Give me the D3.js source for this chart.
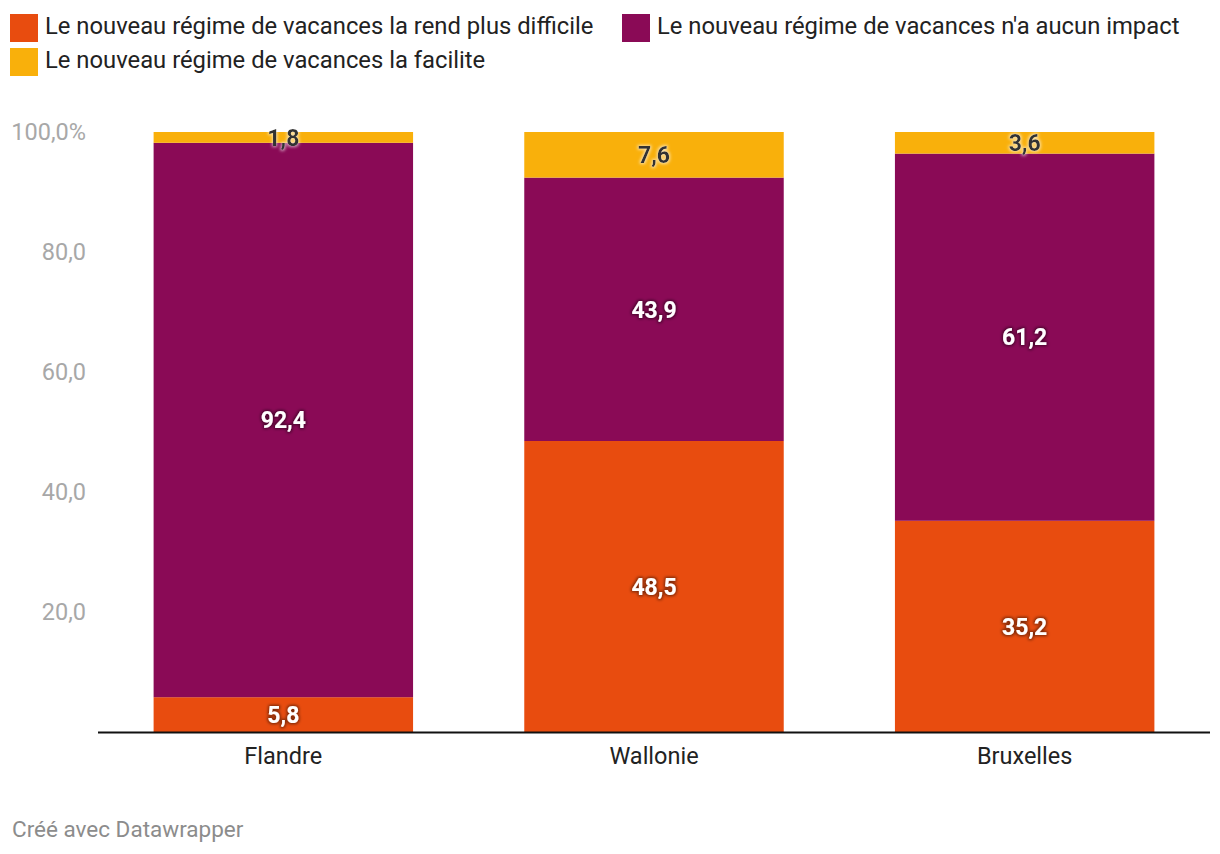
<html>
<head>
<meta charset="utf-8">
<script src="https://d3js.org/d3.v7.min.js"></script>
<style>
  body { margin: 0; background: #fff; font-family: Roboto, "Noto Sans", sans-serif; }
  .val { font-weight: 700; font-size: 23px; }
</style>
</head>
<body>
<svg width="1220" height="854"></svg>
<script>
  var regions = ["Flandre", "Wallonie", "Bruxelles"];
  var seriesNames = [
    "Le nouveau régime de vacances la rend plus difficile",
    "Le nouveau régime de vacances n'a aucun impact",
    "Le nouveau régime de vacances la facilite"
  ];
  var plusDifficile = [5.8, 48.5, 35.2];
  var aucunImpact = [92.4, 43.9, 61.2];
  var facilite = [1.8, 7.6, 3.6];
  var yTicks = [0, 20, 40, 60, 80, 100];
  var colors = ["#e84c0f", "#8a0a56", "#f9b00b"];

  var svg = d3.select("svg");
  var x = d3.scaleBand().domain(regions).range([98, 1210]).paddingInner(0.3).paddingOuter(0.15);
  var y = d3.scaleLinear().domain([0, 100]).range([732, 132]);

  var rows = regions.map(function(r, i) {
    return { region: r, s0: plusDifficile[i], s1: aucunImpact[i], s2: facilite[i] };
  });
  var stack = d3.stack().keys(["s0", "s1", "s2"]);
  var layers = stack(rows);

  // text shadow filters
  var defs = svg.append("defs");
  function glow(id, col, op) {
    var f = defs.append("filter").attr("id", id).attr("x", "-20%").attr("y", "-40%").attr("width", "140%").attr("height", "180%");
    f.append("feMorphology").attr("in", "SourceAlpha").attr("operator", "dilate").attr("radius", 1).attr("result", "d");
    f.append("feGaussianBlur").attr("in", "d").attr("stdDeviation", 1.5).attr("result", "b");
    f.append("feFlood").attr("flood-color", col).attr("flood-opacity", op);
    f.append("feComposite").attr("in2", "b").attr("operator", "in").attr("result", "s");
    var m = f.append("feMerge");
    m.append("feMergeNode").attr("in", "s");
    m.append("feMergeNode").attr("in", "SourceGraphic");
  }
  glow("darkGlow", "#000", 0.5);
  glow("lightGlow", "#fff", 0.6);

  // y axis labels
  svg.append("g").selectAll("text").data(yTicks.filter(function(d){ return d > 0; }))
    .enter().append("text")
    .attr("x", 86).attr("y", function(d){ return y(d); })
    .attr("dy", "0.35em").attr("text-anchor", "end")
    .attr("font-size", 23.5).attr("fill", "#a8a8a8")
    .text(function(d){ return d3.format(".1f")(d).replace(".", ",") + (d === 100 ? "%" : ""); });

  // bars
  svg.append("g").selectAll("g").data(layers).enter().append("g")
    .attr("fill", function(d, i){ return colors[i]; })
    .selectAll("rect").data(function(d){ return d; }).enter().append("rect")
    .attr("x", function(d){ return x(d.data.region); })
    .attr("width", x.bandwidth())
    .attr("y", function(d){ return y(d[1]); })
    .attr("height", function(d){ return y(d[0]) - y(d[1]); });

  // value labels
  var lab = svg.append("g");
  layers.forEach(function(layer, i) {
    lab.selectAll(".l" + i).data(layer).enter().append("text")
      .attr("class", "val")
      .attr("x", function(d){ return x(d.data.region) + x.bandwidth() / 2; })
      .attr("y", function(d){ return (y(d[0]) + y(d[1])) / 2; })
      .attr("dy", "0.36em").attr("text-anchor", "middle")
      .attr("fill", i === 2 ? "#333" : "#fff")
      .attr("filter", i === 2 ? "url(#lightGlow)" : "url(#darkGlow)")
      .text(function(d){ return d3.format(".1f")(d[1] - d[0]).replace(".", ","); });
  });

  // x axis
  svg.append("line").attr("x1", 98).attr("x2", 1210).attr("y1", 732.5).attr("y2", 732.5)
    .attr("stroke", "#111").attr("stroke-width", 2);
  svg.append("g").selectAll("text").data(regions).enter().append("text")
    .attr("x", function(d){ return x(d) + x.bandwidth() / 2; })
    .attr("y", 764).attr("text-anchor", "middle")
    .attr("font-size", 23.5).attr("fill", "#222")
    .text(function(d){ return d; });

  // legend
  var legendPos = [[10, 14], [622, 14], [10, 48]];
  var lg = svg.append("g").selectAll("g").data(seriesNames).enter().append("g")
    .attr("transform", function(d, i){ return "translate(" + legendPos[i][0] + "," + legendPos[i][1] + ")"; });
  lg.append("rect").attr("width", 28).attr("height", 28).attr("fill", function(d, i){ return colors[i]; });
  lg.append("text").attr("x", 35).attr("y", 19.5).attr("font-size", 23.8).attr("fill", "#222")
    .text(function(d){ return d; });

  // footer
  svg.append("text").attr("x", 12).attr("y", 837).attr("font-size", 22.5).attr("fill", "#8c8c8c")
    .text("Créé avec Datawrapper");
</script>
</body>
</html>
